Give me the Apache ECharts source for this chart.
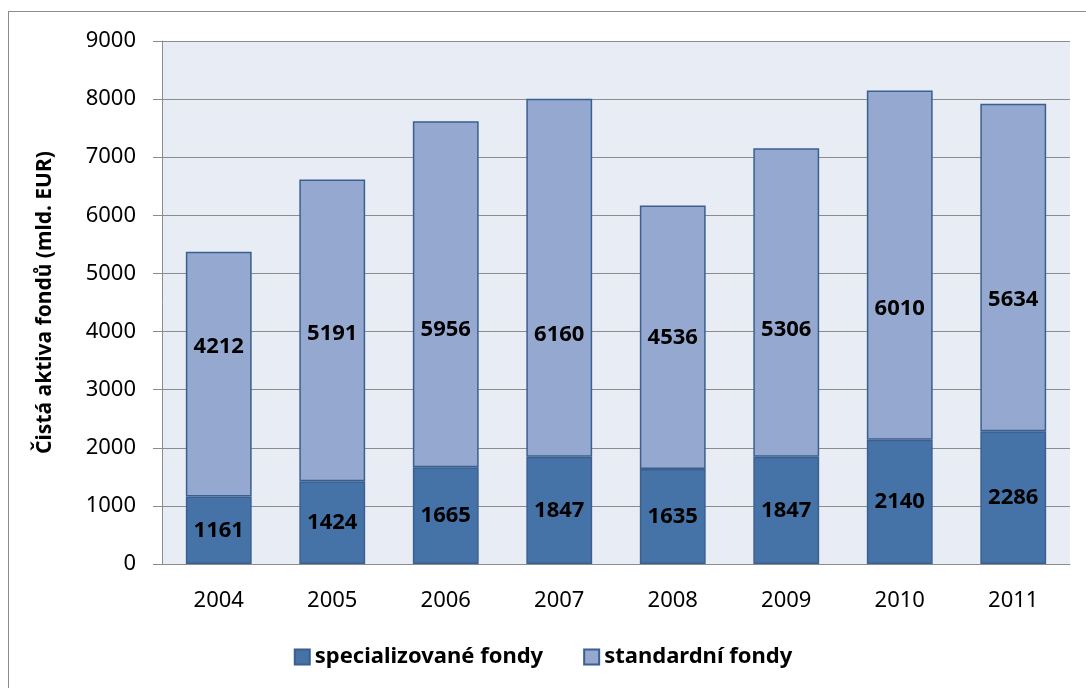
<!DOCTYPE html>
<html>
<head>
<meta charset="utf-8">
<script src="https://cdn.jsdelivr.net/npm/echarts@6/dist/echarts.min.js"></script>
<style>
  html, body { margin: 0; padding: 0; background: #fff; }
  #main { width: 1086px; height: 688px; }
  .frame { position: absolute; left: 8px; top: 11px; width: 1080px; height: 690px; border: 1px solid #8c8c8c; box-sizing: border-box; pointer-events: none; }
</style>
</head>
<body>
<div id="main"></div>
<div class="frame"></div>
<script>
// data
var years = ['2004', '2005', '2006', '2007', '2008', '2009', '2010', '2011'];
var specializovane = [1161, 1424, 1665, 1847, 1635, 1847, 2140, 2286];
var standardni = [4212, 5191, 5956, 6160, 4536, 5306, 6010, 5634];

// posun popisků standardních fondů (px), jako v originále
var labelShift = [-27, 3, 36, 57, 1, 27, 44, 32];

(function () {
  var myChart = echarts.init(document.getElementById('main'));
  var font = '"Noto Sans", "DejaVu Sans", sans-serif';
  var barLabel = {
    show: true,
    position: 'inside',
    color: '#000',
    fontWeight: 'bold',
    fontSize: 22,
    fontFamily: font
  };
  var option = {
    animation: false,
    textStyle: { fontFamily: font },
    grid: { left: 162, right: 16, top: 41, bottom: 124 },
    legend: {
      bottom: 15,
      left: 'center',
      itemWidth: 15,
      itemHeight: 15,
      itemGap: 40,
      icon: 'rect',
      textStyle: { color: '#000', fontWeight: 'bold', fontSize: 22, fontFamily: font }
    },
    xAxis: {
      type: 'category',
      data: years,
      axisLine: { lineStyle: { color: '#8c8c8c', width: 1 } },
      axisTick: { show: false },
      axisLabel: { color: '#000', fontSize: 22, margin: 26 }
    },
    yAxis: {
      type: 'value',
      min: 0,
      max: 9000,
      interval: 1000,
      name: 'Čistá aktiva fondů (mld. EUR)',
      nameLocation: 'middle',
      nameGap: 106,
      nameTextStyle: { color: '#000', fontWeight: 'bold', fontSize: 21 },
      axisLine: { show: true, lineStyle: { color: '#8c8c8c' } },
      axisTick: { show: true, length: 9, lineStyle: { color: '#8c8c8c' } },
      axisLabel: { color: '#000', fontSize: 22, margin: 26, formatter: function (v) { return String(v); } },
      splitLine: { lineStyle: { color: '#8c8c8c', width: 1 } },
      splitArea: { show: true, areaStyle: { color: ['#e8ecf4', '#e8ecf4'] } }
    },
    series: [
      {
        name: 'specializované fondy',
        type: 'bar',
        stack: 'total',
        barWidth: '58%',
        data: specializovane,
        itemStyle: { color: '#4572a7', borderColor: '#3b5f8f', borderWidth: 1.5 },
        label: barLabel
      },
      {
        name: 'standardní fondy',
        type: 'bar',
        stack: 'total',
        barWidth: '58%',
        data: standardni.map(function (v, i) {
          return { value: v, label: { offset: [0, labelShift[i]] } };
        }),
        itemStyle: { color: '#95a9d0', borderColor: '#3b5f8f', borderWidth: 1.5 },
        label: barLabel
      }
    ]
  };
  myChart.setOption(option);
  window.addEventListener('resize', function () {
    myChart.resize();
  });
})();
</script>
</body>
</html>
